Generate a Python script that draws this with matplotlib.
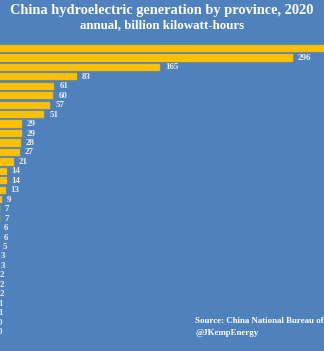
import matplotlib
matplotlib.use('Agg')
import matplotlib.pyplot as plt

# Hydro output per province, 2020 (billion kWh), largest first.
# Province names sit off the left edge of the crop, so none are shown.
values = [354, 296, 165, 83, 61, 60, 57, 51, 29, 29, 28, 27, 21, 14, 14,
          13, 9, 7, 7, 6, 6, 5, 3, 3, 2, 2, 2, 1, 1, 0, 0]
labels = [str(v) for v in values]

bg = '#4F81BD'
gold = '#FFC000'
W, H = 324, 351
plt.rcParams['font.family'] = ['Liberation Serif', 'DejaVu Serif']

fig = plt.figure(figsize=(W / 100, H / 100), dpi=100, facecolor=bg)

# axes: value 0 sits just left of the crop, rows start under the titles
x0_px = -7.5
px_per_unit = 1.015
row0_px, pitch_px = 48.5, 9.45
ax = fig.add_axes([x0_px / W, 0, (W - x0_px) / W, 1])
ax.set_facecolor(bg)
ax.set_xlim(0, (W - x0_px) / px_per_unit)
ax.set_ylim((H - row0_px) / pitch_px, -row0_px / pitch_px)
ax.axis('off')

rows = list(range(len(values)))
ax.barh(rows, values, height=0.77, color=gold, edgecolor='#E8B000', linewidth=0.3)
for r, v, t in zip(rows, values, labels):
    ax.annotate(t, (v, r), xytext=(3.6, 0), textcoords='offset points',
                ha='left', va='center', fontsize=6.5, fontweight='bold',
                color='#EDEDED')

fig.text(0.5, 1 - 10.5 / H, 'China hydroelectric generation by province, 2020',
         ha='center', va='center', fontsize=10.4, fontweight='bold', color='white')
fig.text(0.5, 1 - 25 / H, 'annual, billion kilowatt-hours',
         ha='center', va='center', fontsize=9.4, fontweight='bold', color='white')
fig.text(195 / W, 1 - 321 / H, 'Source: China National Bureau of',
         ha='left', va='center', fontsize=6.4, fontweight='bold', color='white')
fig.text(195 / W, 1 - 333 / H, '@JKempEnergy',
         ha='left', va='center', fontsize=6.4, fontweight='bold', color='white')

fig.savefig('out.png', dpi=100, facecolor=bg)
